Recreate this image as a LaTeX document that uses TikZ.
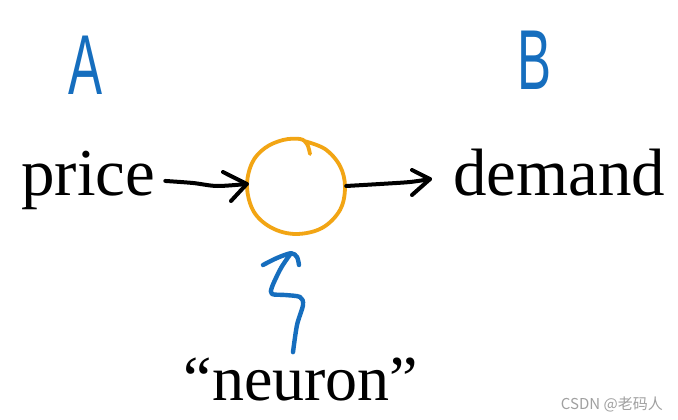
\documentclass[tikz,border=0pt]{standalone}
\usepackage{fontspec}
\usetikzlibrary{calc}
\setmainfont{Liberation Serif}
\newfontfamily\handfont{Liberation Sans}
\newfontfamily\cjkfont{Noto Sans CJK SC}
\definecolor{penblue}{RGB}{22,110,190}
\definecolor{penorange}{RGB}{242,165,20}
\definecolor{wmgray}{RGB}{160,160,160}
\begin{document}
\begin{tikzpicture}[x=1pt,y=-1pt,
  word/.style={inner sep=0pt,font=\fontsize{67}{80}\selectfont,text=black},
  hand/.style={inner sep=0pt,text=penblue,font=\handfont\fontsize{85}{90}\selectfont,xscale=0.6},
  inkblack/.style={draw=black,line width=4pt,line cap=round,line join=round},
  inkblue/.style={draw=penblue,line width=4.4pt,line cap=round,line join=round},
  inkorange/.style={draw=penorange,line width=3.8pt,line cap=round,line join=round}]
\useasboundingbox (0,0) rectangle (678,420);
\fill[white] (0,0) rectangle (678,420);

% labels
\node[word,anchor=base west] (price) at (21,195) {price};
\node[word,anchor=base west] (demand) at (453,195) {demand};
\node[word,anchor=base,font=\fontsize{64}{76}\selectfont] (neuronlabel) at (301,400) {“neuron”};
\node[hand,anchor=base] (A) at (86,95) {A};
\node[hand,anchor=base] (B) at (535,90) {B};

% neuron
\node[circle,minimum size=96pt,inner sep=0pt] (neuron) at (296,187) {};
\draw[inkorange] plot[smooth,tension=0.6] coordinates {(304,141) (325,149) (340,166) (345,187) (340,210) (322,228) (296,234) (272,228) (254,212) (247,187) (252,163) (265,148) (283,140) (300,139) (307,144) (310,154)};

% input arrow
\coordinate (intail) at ($(price.east)+(10,1)$);
\coordinate (intip) at ($(neuron.west)+(-1,-3)$);
\draw[inkblack] plot[smooth] coordinates {(intail) (193,183) (217,186) (intip)};
\draw[inkblack] (223,172) -- (intip) -- (231,201);

% output arrow
\coordinate (outtail) at ($(neuron.east)+(2,-1)$);
\coordinate (outtip) at ($(demand.west)+(-23,7)$);
\draw[inkblack] plot[smooth] coordinates {(outtail) (380,184) (410,182) (outtip)};
\draw[inkblack] (412,170) -- (outtip) -- (412,195);

% squiggle arrow from label to neuron
\coordinate (sqtail) at ($(neuronlabel.north)+(-8,-5)$);
\coordinate (sqtip) at ($(neuron.south)+(-5,18)$);
\draw[inkblue] plot[smooth,tension=0.5] coordinates {(sqtail) (297,325) (303,305) (300,297) (285,295) (272,294) (272,287) (281,268) (sqtip)};
\draw[inkblue] plot[smooth,tension=0.5] coordinates {(263,265) (277,258) (sqtip) (297,257) (299,265)};

% watermark
\node[inner sep=0pt,anchor=base east,text=wmgray,font=\cjkfont\fontsize{15}{17}\selectfont] (wm) at (663,409) {CSDN @老码人};
\end{tikzpicture}
\end{document}
